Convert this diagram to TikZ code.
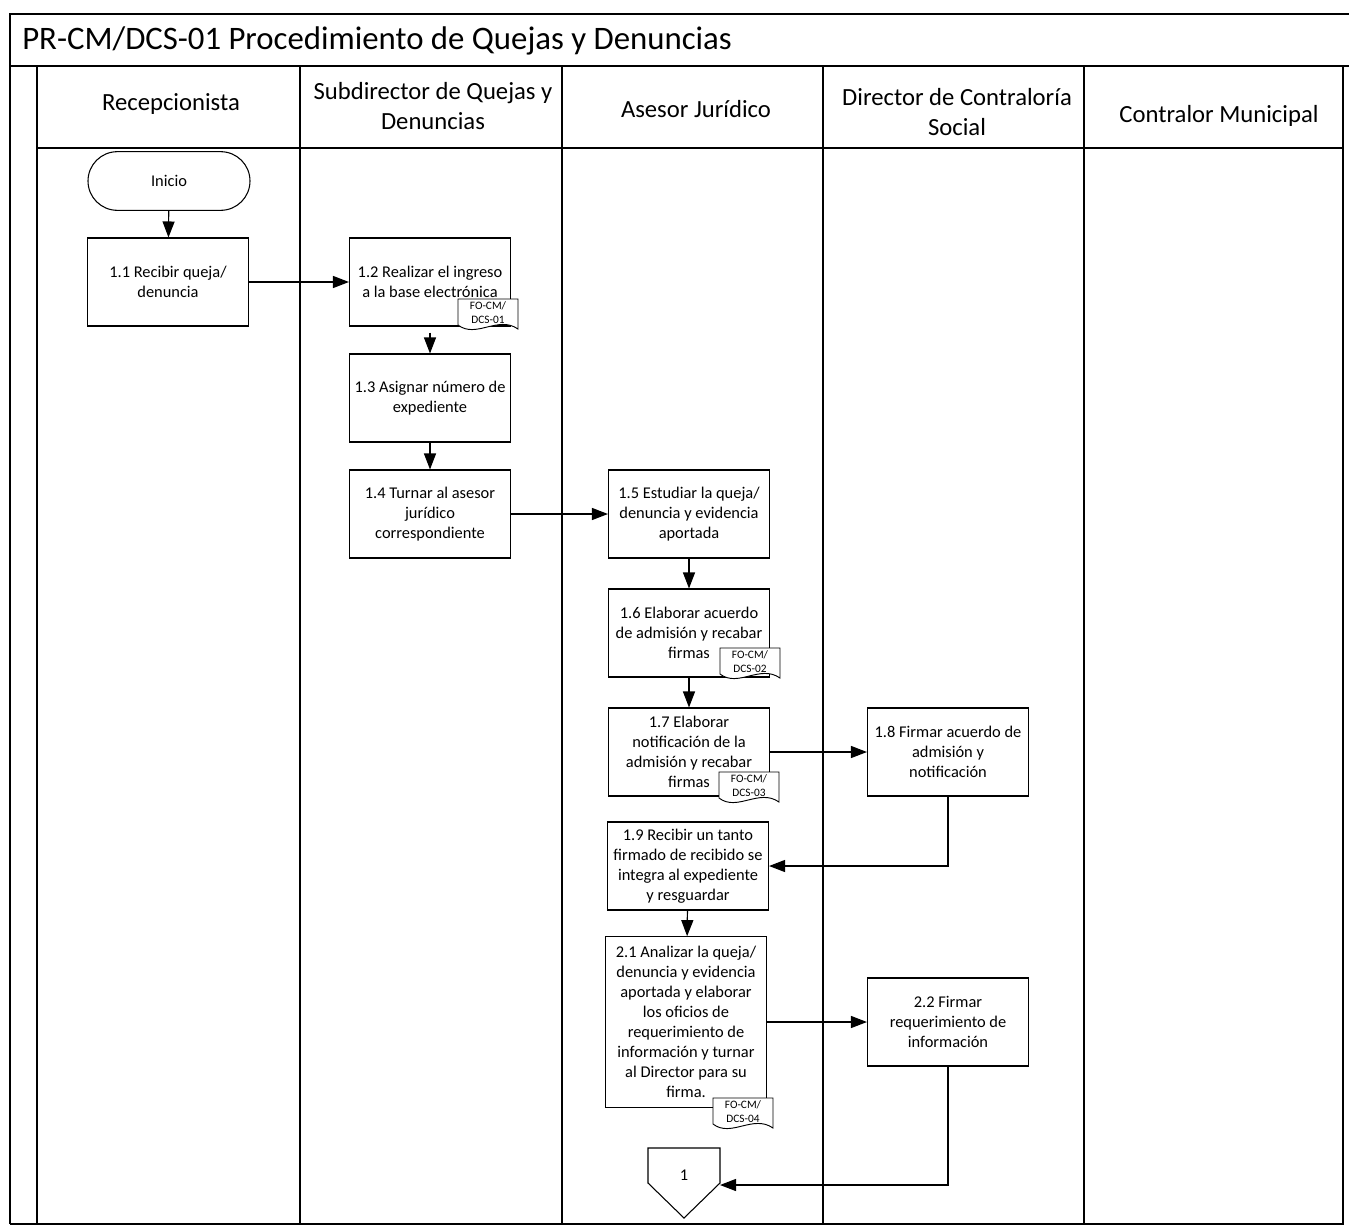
\documentclass[tikz,border=0pt]{standalone}
\usepackage{fontspec}
\setmainfont{Carlito}
\usetikzlibrary{arrows.meta}
\newcommand{\fodoc}[4]{%
  \path (#2,#3) coordinate (#1);
  \draw[docline] (#2,#3) -- ({#2+60},#3) -- ({#2+60},{#3+30})
    .. controls ({#2+40},{#3+16}) and ({#2+18},{#3+40}) .. (#2,{#3+26}) -- cycle;
  \node[doctext] (#1t) at ({#2+30},{#3+14}) {#4};
}
\begin{document}
\begin{tikzpicture}[x=0.75pt,y=-0.75pt,
  frameline/.style={line width=1.3pt},
  laneline/.style={line width=1.1pt},
  hdr/.style={align=center, font=\fontsize{18.5}{22.5}\selectfont},
  box/.style={draw, line width=0.8pt, minimum width=120.75pt, minimum height=66pt,
    align=center, font=\fontsize{12.3}{15}\selectfont, inner sep=1pt},
  term/.style={draw, line width=0.8pt, rounded corners=22pt, minimum width=121.5pt,
    minimum height=44pt, font=\fontsize{12.3}{15}\selectfont},
  docline/.style={draw, fill=white, line width=0.7pt},
  doctext/.style={align=center, font=\fontsize{8.5}{10.5}\selectfont, inner sep=0pt},
  flow/.style={-{Triangle[length=12pt,width=9pt]}, line width=0.9pt},
]
\useasboundingbox (0,0) rectangle (1349,1228);
% frame
\draw[frameline] (10,1224) -- (10,14) -- (1349,14);
\draw[frameline] (10,66) -- (1349,66);
\draw[frameline] (10,1224) -- (1343,1224) -- (1343,66);
\draw[line width=1.6pt] (37,148) -- (1343,148);
\draw[laneline] (37,66) -- (37,1224);
\draw[laneline] (300,66) -- (300,1224);
\draw[laneline] (562,66) -- (562,1224);
\draw[laneline] (823,66) -- (823,1224);
\draw[laneline] (1084,66) -- (1084,1224);
% title and headers
\node[anchor=west, font=\fontsize{24.6}{28}\selectfont, inner sep=0pt] (title) at (22,41)
  {PR-CM/DCS-01 Procedimiento de Quejas y Denuncias};
\node[hdr] (h1) at (171,104) {Recepcionista};
\node[hdr] (h2) at (433,106) {Subdirector de Quejas y\\Denuncias};
\node[hdr] (h3) at (696,109) {Asesor Jurídico};
\node[hdr] (h4) at (957,112) {Director de Contraloría\\Social};
\node[hdr] (h5) at (1219,116) {Contralor Municipal};
% nodes
\node[term] (ini) at (169,181) {Inicio};
\node[box] (n11) at (168,282) {1.1 Recibir queja/\\denuncia};
\node[box] (n12) at (430,282) {1.2 Realizar el ingreso\\a la base electrónica};
\fodoc{d1}{458}{299}{FO-CM/\\DCS-01}
\node[box] (n13) at (430,398) {1.3 Asignar número de\\expediente};
\node[box] (n14) at (430,514) {1.4 Turnar al asesor\\jurídico\\correspondiente};
\node[box] (n15) at (689,514) {1.5 Estudiar la queja/\\denuncia y evidencia\\aportada};
\node[box] (n16) at (689,633) {1.6 Elaborar acuerdo\\de admisión y recabar\\firmas};
\fodoc{d2}{720}{648}{FO-CM/\\DCS-02}
\node[box] (n17) at (689,752) {1.7 Elaborar\\notificación de la\\admisión y recabar\\firmas};
\fodoc{d3}{719}{772}{FO-CM/\\DCS-03}
\node[box] (n18) at (948,752) {1.8 Firmar acuerdo de\\admisión y\\notificación};
\node[box] (n19) at (688,866) {1.9 Recibir un tanto\\firmado de recibido se\\integra al expediente\\y resguardar};
\node[box, minimum height=128pt] (n21) at (686,1022)
  {2.1 Analizar la queja/\\denuncia y evidencia\\aportada y elaborar\\los oficios de\\requerimiento de\\información y turnar\\al Director para su\\firma.};
\fodoc{d4}{713}{1098}{FO-CM/\\DCS-04}
\node[box] (n22) at (948,1022) {2.2 Firmar\\requerimiento de\\información};
% off-page connector
\draw[line width=0.8pt] (648,1148) -- (720,1148) -- (720,1183) -- (684,1218) -- (648,1183) -- cycle;
\node[font=\fontsize{12.3}{15}\selectfont] (c1) at (684,1175) {1};
\coordinate (c1e) at (720,1185);
% connectors
\draw[flow] (ini) -- (n11);
\draw[flow] (n11) -- (n12);
\draw[flow] (n12.south) ++(0,6) -- (n13.north);
\draw[flow] (n13) -- (n14);
\draw[flow] (n14) -- (n15);
\draw[flow] (n15) -- (n16);
\draw[flow] (n16) -- (n17);
\draw[flow] (n17) -- (n18);
\draw[flow] (n18.south) |- (n19.east);
\draw[flow] (n19) -- (n21);
\draw[flow] (n21) -- (n22);
\draw[flow] (n22.south) |- (c1e);
\end{tikzpicture}
\end{document}
